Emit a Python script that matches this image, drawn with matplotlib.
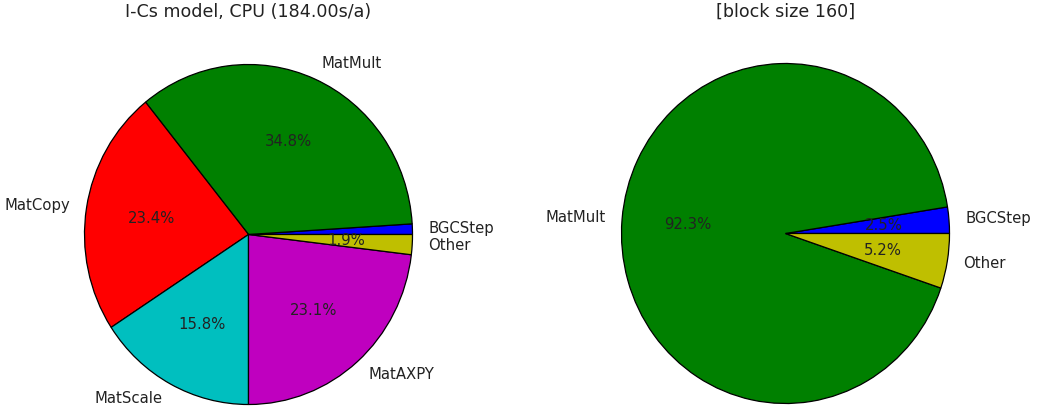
import matplotlib.pyplot as plt

# left pie: I-Cs model, CPU
left_labels = ["BGCStep", "MatMult", "MatCopy", "MatScale", "MatAXPY", "Other"]
left_values = [1.0, 34.8, 23.4, 15.8, 23.1, 1.9]
left_colors = ["b", "g", "r", "c", "m", "y"]

# right pie: block size 160
right_labels = ["BGCStep", "MatMult", "Other"]
right_values = [2.5, 92.3, 5.2]
right_colors = ["b", "g", "y"]

W, H = 1037, 407
RX, RY = 164.0, 170.0   # pie is slightly stretched vertically in the reference
aw = 480.0              # axes width in pixels

fig = plt.figure(figsize=(W / 100, H / 100), dpi=100)

def pct(p):
    return "%.1f%%" % p if p > 1.5 else ""

def draw(cx, cy, labels, values, colors, title):
    # cy measured from the top of the image
    ax = fig.add_axes([(cx - aw / 2) / W, 0, aw / W, 1])
    ax.pie(values, labels=labels, colors=colors, autopct=pct, startangle=0,
           counterclock=True, labeldistance=1.1, pctdistance=0.6,
           wedgeprops=dict(edgecolor="black", linewidth=0.9),
           textprops=dict(fontsize=10.7, color="#222222"))
    ax.set_aspect("auto")
    ax.set_xlim(-aw / 2 / RX, aw / 2 / RX)
    ax.set_ylim(-(H - cy) / RY, cy / RY)
    ax.axis("off")
    ax.set_title(title, fontsize=12.6, color="#222222", y=0.958, pad=0)

draw(248.5, 234.5, left_labels, left_values, left_colors, "I-Cs model, CPU (184.00s/a)")
draw(785.5, 233.5, right_labels, right_values, right_colors, "[block size 160]")

fig.savefig("out.png", dpi=100)
